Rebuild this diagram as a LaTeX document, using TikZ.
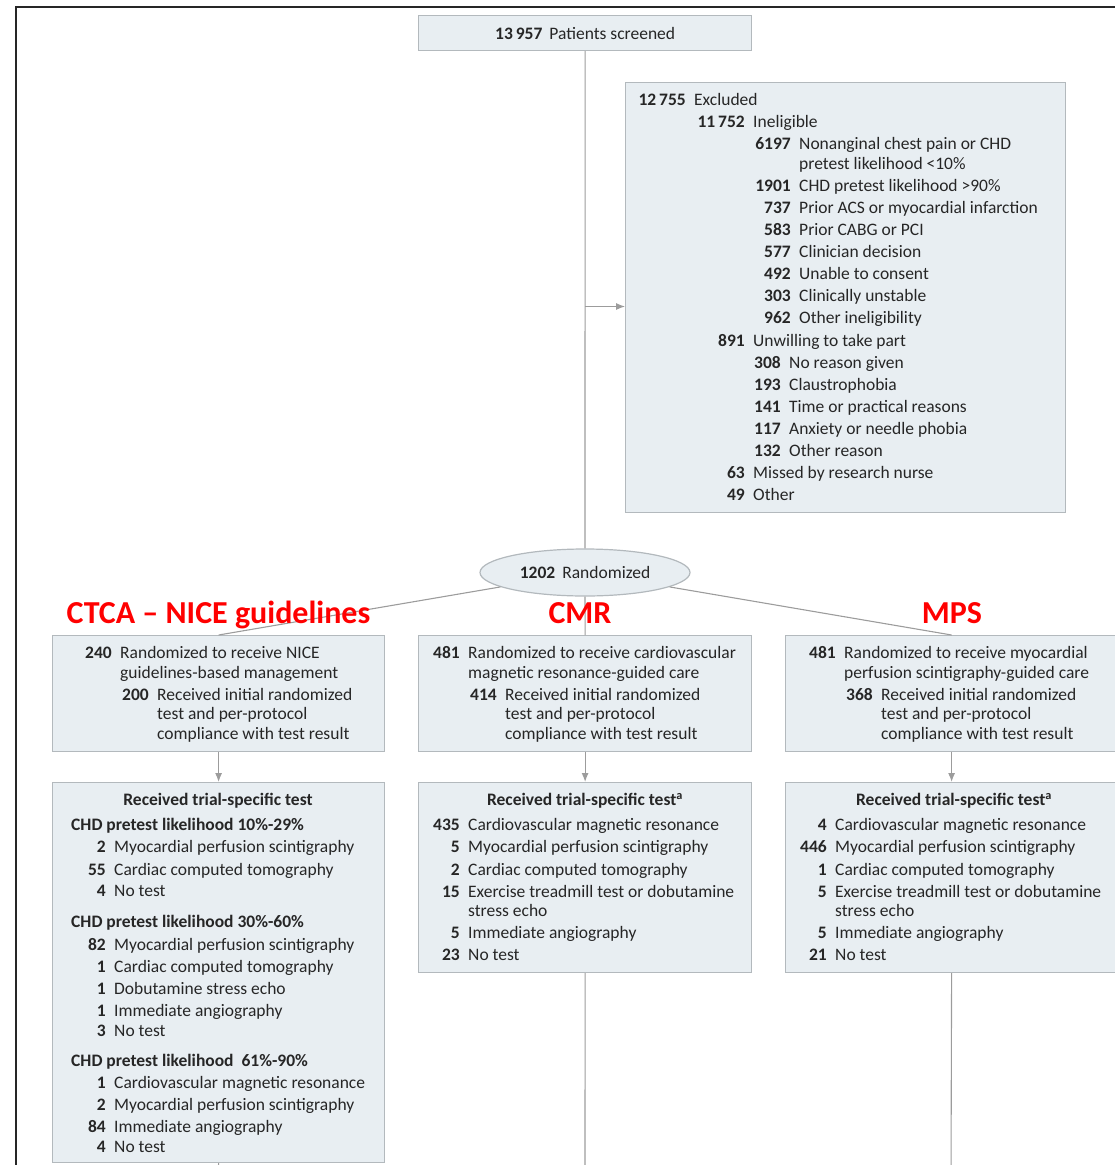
\documentclass[tikz,border=0pt]{standalone}
\usepackage{fontspec}
\setmainfont{Carlito}
\usetikzlibrary{shapes.geometric,arrows.meta}

\definecolor{boxfill}{HTML}{E8EEF2}
\definecolor{boxline}{HTML}{B3B9BD}
\definecolor{wire}{HTML}{9C9C9C}
\definecolor{ink}{HTML}{262626}
\definecolor{armred}{HTML}{FF0000}

\tikzset{
  x=1pt, y=-1pt,
  box/.style={draw=boxline, fill=boxfill, line width=1.2pt, inner sep=0pt, anchor=north west},
  wire/.style={draw=wire, line width=1.1pt},
  flow/.style={wire, -{Latex[length=9pt,width=7pt]}},
  bodytxt/.style={inner sep=0pt, text=ink, font=\fontsize{17.5}{21}\selectfont},
  numtxt/.style={bodytxt, font=\fontsize{17.5}{21}\selectfont\bfseries},
  headtxt/.style={numtxt},
  armlbl/.style={inner sep=0pt, text=armred, font=\fontsize{32}{32}\selectfont\bfseries, anchor=base},
}

% one counted entry: number right-aligned at x, text 8pt after it
\newcounter{itm}
\newcommand\itm[4]{%
  \stepcounter{itm}%
  \node[numtxt, anchor=mid east] (n\theitm) at (#1,#2+4) {#3};
  \node[bodytxt, anchor=base west] (t\theitm) at ([xshift=8pt]n\theitm.base east) {#4};}
% continuation line of an entry whose number ends at x
\newcommand\cont[3]{%
  \stepcounter{itm}%
  \node[bodytxt, anchor=mid west] (t\theitm) at (#1+8,#2+4) {#3};}
% bold heading, left aligned
\newcommand\head[3]{%
  \stepcounter{itm}%
  \node[headtxt, anchor=mid west] (h\theitm) at (#1,#2+4) {#3};}

\begin{document}
\begin{tikzpicture}
\useasboundingbox (0,0) rectangle (1115,1165);
\clip (0,0) rectangle (1115,1165);

% outer frame
\draw[line width=2.3pt, black!85] (16,1200) -- (16,7) -- (1200,7);

% boxes
\node[box, minimum width=333pt, minimum height=35pt] (scr) at (418,15)
  {\color{ink}\fontsize{17.5}{21}\selectfont\textbf{13\,957}\hspace{7pt}Patients screened};
\node[box, minimum width=440pt, minimum height=430pt] (exc) at (625,82) {};
\node[ellipse, draw=boxline, fill=boxfill, line width=1.2pt, inner sep=0pt,
      minimum width=210pt, minimum height=47pt] (rand) at (585,572.5)
  {\color{ink}\fontsize{17.5}{21}\selectfont\textbf{1202}\hspace{7pt}Randomized};

\node[box, minimum width=332pt, minimum height=116pt] (b1) at (52,635) {};
\node[box, minimum width=333pt, minimum height=116pt] (b2) at (418,635) {};
\node[box, minimum width=332pt, minimum height=116pt] (b3) at (785,635) {};

\node[box, minimum width=332pt, minimum height=380pt] (c1) at (52,782) {};
\node[box, minimum width=333pt, minimum height=190pt] (c2) at (418,782) {};
\node[box, minimum width=332pt, minimum height=190pt] (c3) at (785,782) {};

% free ends of the lines running on below
\coordinate (e1) at (218,1180);
\coordinate (e2) at (585,1180);
\coordinate (e3) at (951,1180);
\coordinate (ej) at (585,306.5);

% connectors
\draw[wire] (scr.south) -- (rand.north);
\draw[flow] (ej) -- (ej -| exc.west);
\draw[wire] (rand) -- (b1.north);
\draw[wire] (rand.south) -- (b2.north);
\draw[wire] (rand) -- (b3.north);
\draw[flow] (b1.south) -- (c1.north);
\draw[flow] (b2.south) -- (c2.north);
\draw[flow] (b3.south) -- (c3.north);
\draw[wire] (c1.south) -- (e1);
\draw[wire] (c2.south) -- (e2);
\draw[wire] (c3.south) -- (e3);

% excluded patients
\itm{686}{99}{12\,755}{Excluded}
\itm{745}{121}{11\,752}{Ineligible}
\itm{791}{143}{6197}{Nonanginal chest pain or CHD}
\cont{791}{163}{pretest likelihood <10\%}
\itm{791}{185}{1901}{CHD pretest likelihood >90\%}
\itm{791}{207}{737}{Prior ACS or myocardial infarction}
\itm{791}{229}{583}{Prior CABG or PCI}
\itm{791}{251}{577}{Clinician decision}
\itm{791}{273}{492}{Unable to consent}
\itm{791}{295}{303}{Clinically unstable}
\itm{791}{317}{962}{Other ineligibility}
\itm{745}{340}{891}{Unwilling to take part}
\itm{781}{362}{308}{No reason given}
\itm{781}{384}{193}{Claustrophobia}
\itm{781}{406}{141}{Time or practical reasons}
\itm{781}{428}{117}{Anxiety or needle phobia}
\itm{781}{450}{132}{Other reason}
\itm{745}{472}{63}{Missed by research nurse}
\itm{745}{494}{49}{Other}

% randomized arms
\itm{112}{652}{240}{Randomized to receive NICE}
\cont{112}{672}{guidelines-based management}
\itm{149}{694}{200}{Received initial randomized}
\cont{149}{713}{test and per-protocol}
\cont{149}{733}{compliance with test result}

\itm{460}{652}{481}{Randomized to receive cardiovascular}
\cont{460}{672}{magnetic resonance-guided care}
\itm{497}{694}{414}{Received initial randomized}
\cont{497}{713}{test and per-protocol}
\cont{497}{733}{compliance with test result}

\itm{836}{652}{481}{Randomized to receive myocardial}
\cont{836}{672}{perfusion scintigraphy-guided care}
\itm{873}{694}{368}{Received initial randomized}
\cont{873}{713}{test and per-protocol}
\cont{873}{733}{compliance with test result}

% tests received, guidelines arm
\node[headtxt] (ttl1) at (218,801) {Received trial-specific test};
\head{71}{824}{CHD pretest likelihood 10\%-29\%}
\itm{106}{846}{2}{Myocardial perfusion scintigraphy}
\itm{106}{869}{55}{Cardiac computed tomography}
\itm{106}{890}{4}{No test}
\head{71}{921}{CHD pretest likelihood 30\%-60\%}
\itm{106}{944}{82}{Myocardial perfusion scintigraphy}
\itm{106}{966}{1}{Cardiac computed tomography}
\itm{106}{988}{1}{Dobutamine stress echo}
\itm{106}{1010}{1}{Immediate angiography}
\itm{106}{1030}{3}{No test}
\head{71}{1060}{CHD pretest likelihood\hspace{8pt}61\%-90\%}
\itm{106}{1082}{1}{Cardiovascular magnetic resonance}
\itm{106}{1104}{2}{Myocardial perfusion scintigraphy}
\itm{106}{1126}{84}{Immediate angiography}
\itm{106}{1146}{4}{No test}

% tests received, CMR arm
\node[headtxt] (ttl2) at (585,801) {Received trial-specific test\textsuperscript{a}};
\itm{460}{824}{435}{Cardiovascular magnetic resonance}
\itm{460}{846}{5}{Myocardial perfusion scintigraphy}
\itm{460}{869}{2}{Cardiac computed tomography}
\itm{460}{891}{15}{Exercise treadmill test or dobutamine}
\cont{460}{910}{stress echo}
\itm{460}{932}{5}{Immediate angiography}
\itm{460}{954}{23}{No test}

% tests received, MPS arm
\node[headtxt] (ttl3) at (954,801) {Received trial-specific test\textsuperscript{a}};
\itm{827}{824}{4}{Cardiovascular magnetic resonance}
\itm{827}{846}{446}{Myocardial perfusion scintigraphy}
\itm{827}{869}{1}{Cardiac computed tomography}
\itm{827}{891}{5}{Exercise treadmill test or dobutamine}
\cont{827}{910}{stress echo}
\itm{827}{932}{5}{Immediate angiography}
\itm{827}{954}{21}{No test}

% arm labels
\node[armlbl] (arm1) at (218.5,623) {CTCA -- NICE guidelines};
\node[armlbl] (arm2) at (580,623) {CMR};
\node[armlbl] (arm3) at (952,623) {MPS};
\end{tikzpicture}
\end{document}
